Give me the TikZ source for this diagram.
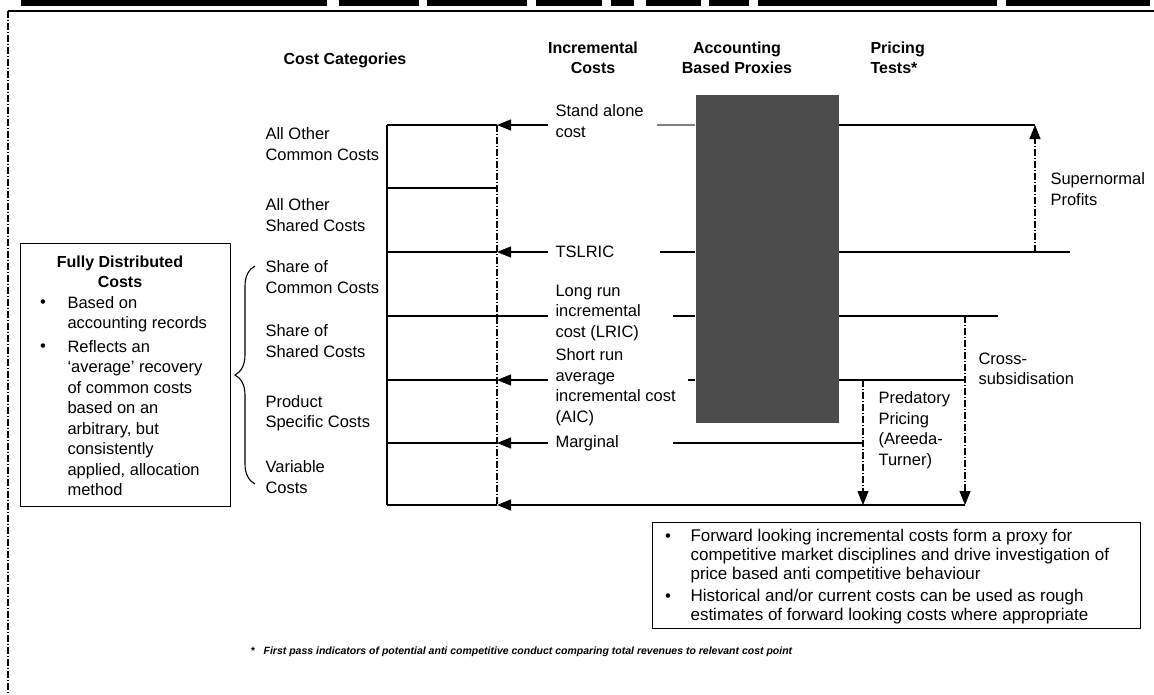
\documentclass[tikz,border=0pt]{standalone}
\usepackage{fontspec}
\setmainfont{Liberation Sans}
\usetikzlibrary{arrows.meta, positioning, decorations.pathreplacing}

\begin{document}
\begin{tikzpicture}[x=1pt, y=-1pt, line width=1.1pt,
    font=\fontsize{16.5}{20.5}\selectfont,
    txt/.style={inner sep=0pt, align=left, anchor=west},
    head/.style={inner sep=0pt, align=center, font=\fontsize{16}{20}\selectfont\bfseries},
    arr/.style={-{Triangle[length=14pt,width=11pt]}},
    vline/.style={dash pattern=on 7pt off 2pt on 1pt off 2pt},
    boxed/.style={draw, inner sep=0pt, anchor=north west}]
  \useasboundingbox (0,0) rectangle (1154,694);

  % cut-off header cells and page frame
  \foreach \a/\b in {21/327, 339/419, 427/527, 536/602, 611/634, 646/701, 709/749, 758/997, 1006/1150}
    \fill (\a,0) rectangle (\b,6);
  \draw (8,11) -- (1154,11);
  \draw[vline] (8,11) -- (8,694);

  % column headings
  \node[head] (hdcat) at (345,60) {Cost Categories};
  \node[head] (hdinc) at (593,58) {Incremental\\Costs};
  \node[head] (hdacc) at (737,58) {Accounting\\Based Proxies};
  \node[head, align=left, anchor=west] (hdprc) at (870,58) {Pricing\\Tests*};

  % cost category column
  \foreach \y [count=\i from 0] in {125,188,252,316,380,443,505} {
    \coordinate (L\i) at (387,\y);
    \coordinate (R\i) at (497,\y);
    \draw (L\i) -- (R\i);
  }
  \draw (L0) -- (L6);
  \draw[vline] (R0) -- (R6);

  \node[txt] (allcom) at (265,144) {All Other\\Common Costs};
  \node[txt] (allsh)  at (265,215) {All Other\\Shared Costs};
  \node[txt] (shcom)  at (265,277) {Share of\\Common Costs};
  \node[txt] (shsh)   at (265,341) {Share of\\Shared Costs};
  \node[txt] (prod)   at (265,413) {Product\\Specific Costs};
  \node[txt] (var)    at (265,477) {Variable\\Costs};

  \draw[decorate, decoration={brace, amplitude=20pt}] (255,484) -- (255,266);

  % fully distributed costs
  \node[boxed, minimum width=210, minimum height=263] (fdc) at (20,243) {};
  \node[head] (fdctitle) at (120,272) {Fully Distributed\\Costs};
  \node[txt] (fdb1) at (67,314) {Based on\\accounting records};
  \node[txt] (fdb2) at (67,418) {Reflects an\\`average' recovery\\of common costs\\based on an\\arbitrary, but\\consistently\\applied, allocation\\method};
  \node[inner sep=0pt] (fdbul1) at (43,304) {\textbullet};
  \node[inner sep=0pt] (fdbul2) at (43,348) {\textbullet};

  % incremental costs
  \node[txt] (sac) at (555,121) {Stand alone\\cost};
  \node[txt] (tsl) at (555,252) {TSLRIC};
  \node[txt] (lri) at (555,313) {Long run\\incremental\\cost (LRIC)};
  \node[txt] (aic) at (555,387) {Short run\\average\\incremental cost\\(AIC)};
  \node[txt] (mrg) at (555,443) {Marginal};

  \coordinate (inc0) at (548,125);
  \coordinate (inc2) at (548,252);
  \coordinate (inc3) at (548,316);
  \coordinate (inc4) at (548,380);
  \coordinate (inc5) at (548,443);
  \draw[arr] (inc0) -- (R0);
  \draw[arr] (inc2) -- (R2);
  \draw (inc3) -- (R3);
  \draw[arr] (inc4) -- (R4);
  \draw[arr] (inc5) -- (R5);

  % accounting based proxies
  \node[fill=black!70, inner sep=0pt, anchor=north west,
        minimum width=143, minimum height=328] (prx) at (695,94) {};
  \coordinate (pl0) at (657,125);
  \coordinate (pl2) at (660,252);
  \coordinate (pl3) at (673,316);
  \coordinate (pl4) at (688,380);
  \coordinate (pl5) at (673,443);
  \draw[gray] (pl0) -- (pl0 -| prx.west);
  \draw (pl2) -- (pl2 -| prx.west);
  \draw (pl3) -- (pl3 -| prx.west);
  \draw (pl4) -- (pl4 -| prx.west);

  % pricing tests
  \coordinate (sn) at (1035,125);
  \coordinate (ts) at (1070,252);
  \coordinate (cs) at (998,316);
  \coordinate (cx) at (965,505);
  \coordinate (pp) at (863,505);
  \draw (sn -| prx.east) -- (sn);
  \draw (ts -| prx.east) -- (ts);
  \draw[vline, arr] (sn |- ts) -- (sn);
  \draw (cs -| prx.east) -- (cs);
  \draw[vline, arr] (cx |- cs) -- (cx);
  \draw (R4 -| prx.east) -- (R4 -| cx);
  \draw[vline, arr] (pp |- R4) -- (pp);
  \draw (pl5) -- (pl5 -| pp);
  \draw[arr] (cx) -- (R6);

  \node[txt] (snp)  at (1050,189) {Supernormal\\Profits};
  \node[txt] (csub) at (978,369) {Cross-\\subsidisation};
  \node[txt] (pred) at (878,430) {Predatory\\Pricing\\(Areeda-\\Turner)};

  % notes
  \node[boxed, minimum width=488, minimum height=106] (fwd) at (652,522) {};
  \node[txt, font=\fontsize{17}{19}\selectfont] (fw1) at (690,556)
    {Forward looking incremental costs form a proxy for\\competitive market disciplines and drive investigation of\\price based anti competitive behaviour};
  \node[txt, font=\fontsize{17}{19}\selectfont] (fw2) at (690,607)
    {Historical and/or current costs can be used as rough\\estimates of forward looking costs where appropriate};
  \node[inner sep=0pt] (fwbul1) at (668,538) {\textbullet};
  \node[inner sep=0pt] (fwbul2) at (668,598) {\textbullet};

  \node[txt, font=\fontsize{10.5}{12}\selectfont\bfseries\itshape] (fnote) at (250,652)
    {*\hspace{9pt}First pass indicators of potential anti competitive conduct comparing total revenues to relevant cost point};
\end{tikzpicture}
\end{document}
